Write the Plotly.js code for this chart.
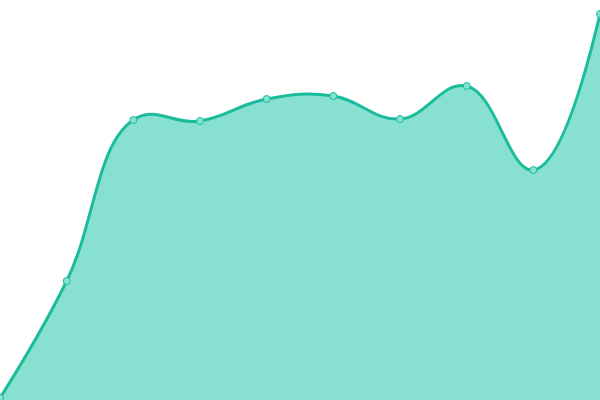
<!DOCTYPE html>
<html>
<head>
<meta charset="utf-8">
<script src="https://cdn.plot.ly/plotly-3.0.1.min.js"></script>
<style>
  html, body { margin: 0; padding: 0; background: #fff; }
  #plot { width: 600px; height: 400px; }
</style>
</head>
<body>
<div id="plot"></div>
<script>
// points along the curve
var xValues = [0, 1, 2, 3, 4, 5, 6, 7, 8, 9];
var yValues = [2, 119, 280, 279, 301, 304, 281, 314, 230, 386];

var area = {
  x: xValues,
  y: yValues,
  type: "scatter",
  mode: "lines+markers",
  fill: "tozeroy",
  fillcolor: "#88e0d0",
  line: { color: "#1abc9c", width: 3, shape: "spline", smoothing: 1.2 },
  marker: {
    size: 7,
    color: "#88e0d0",
    line: { color: "#1abc9c", width: 1 }
  },
  cliponaxis: false,
  hoverinfo: "x+y"
};

var layout = {
  width: 600,
  height: 400,
  margin: { l: 0, r: 0, t: 0, b: 0 },
  paper_bgcolor: "#fff",
  plot_bgcolor: "#fff",
  showlegend: false,
  xaxis: { range: [0, 9], visible: false, fixedrange: true },
  yaxis: { range: [0, 400], visible: false, fixedrange: true }
};

Plotly.newPlot("plot", [area], layout, { displayModeBar: false, staticPlot: true });
</script>
</body>
</html>
